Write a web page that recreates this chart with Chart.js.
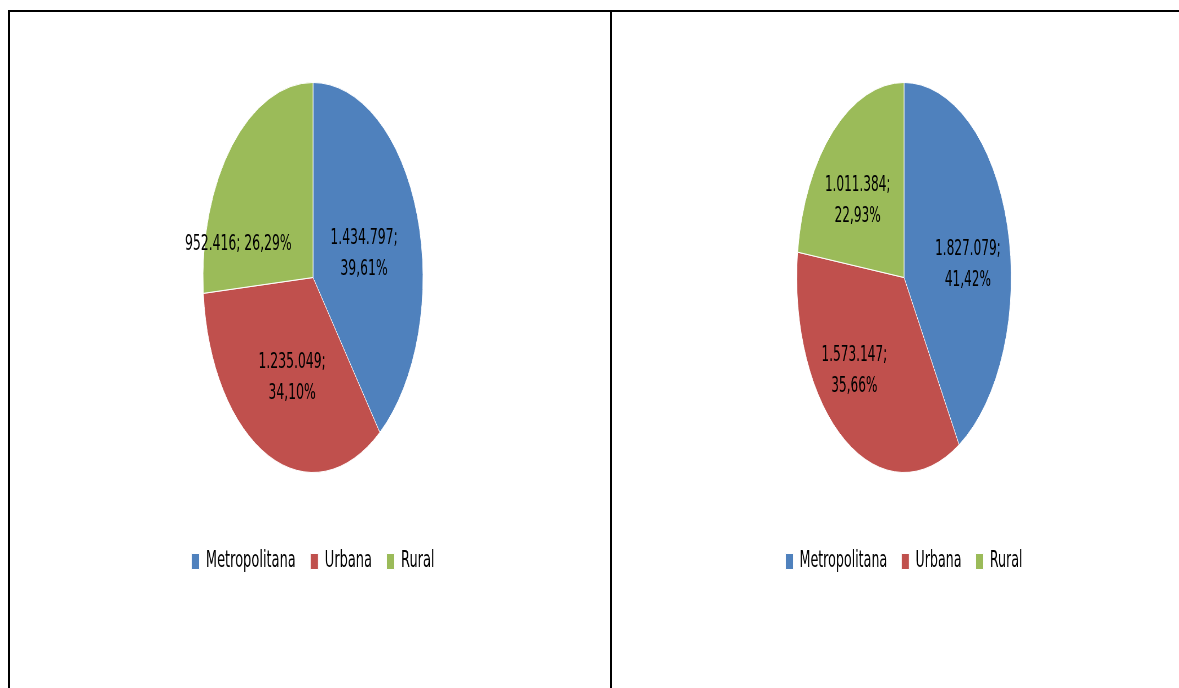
<!DOCTYPE html>
<html lang="es">
<head>
<meta charset="utf-8">
<title>Población por zona</title>
<script src="https://cdn.jsdelivr.net/npm/chart.js@4.4.1/dist/chart.umd.min.js"></script>
<style>
  html, body { margin: 0; padding: 0; background: #fff; overflow: hidden; }
  #tabla { position: absolute; left: 8px; top: 10px; width: 1200px; height: 700px;
           border-top: 2px solid #000; border-left: 2px solid #000; }
  #divisor { position: absolute; left: 610px; top: 10px; width: 2px; height: 700px; background: #000; }
  /* el grafico original esta estirado en vertical: se dibuja en circulo y se comprime en x */
  canvas { position: absolute; top: 0; transform-origin: 0 0; }
  #grafica1 { left: 31px; transform: scaleX(0.564); }
  #grafica2 { left: 629px; transform: scaleX(0.550); }
</style>
</head>
<body>
<div id="tabla"></div>
<div id="divisor"></div>
<canvas id="grafica1" width="1000" height="583"></canvas>
<canvas id="grafica2" width="1000" height="583"></canvas>

<script>
// Datos
const zonas = ['Metropolitana', 'Urbana', 'Rural'];
const valores1 = [1434797, 1235049, 952416];
const valores2 = [1827079, 1573147, 1011384];
const colores = ['#4F81BD', '#C0504D', '#9BBB59'];

// Formato 1.234.567 y 39,61%
function miles(n) {
  return String(n).replace(/\B(?=(\d{3})+(?!\d))/g, '.');
}
function porcentaje(v, datos) {
  const total = datos.reduce((a, b) => a + b, 0);
  return (v / total * 100).toFixed(2).replace('.', ',') + '%';
}

// Etiquetas de datos dibujadas sobre cada sector
const etiquetas = {
  id: 'etiquetas',
  afterDatasetsDraw(chart, args, opts) {
    const ctx = chart.ctx;
    const datos = chart.data.datasets[0].data;
    const meta = chart.getDatasetMeta(0);
    ctx.save();
    ctx.font = '22px "DejaVu Sans"';
    ctx.fillStyle = '#000';
    ctx.textAlign = 'center';
    ctx.textBaseline = 'middle';
    meta.data.forEach((arco, i) => {
      const p = arco.getProps(['x', 'y', 'startAngle', 'endAngle', 'outerRadius'], true);
      const ajuste = opts.ajustes[i];
      const ang = (p.startAngle + p.endAngle) / 2 + ajuste[1] * Math.PI / 180;
      const r = p.outerRadius * ajuste[0];
      const x = p.x + Math.cos(ang) * r;
      const y = p.y + Math.sin(ang) * r;
      const v = datos[i];
      if (opts.unaLinea[i]) {
        ctx.fillText(miles(v) + '; ' + porcentaje(v, datos), x, y);
      } else {
        ctx.fillText(miles(v) + ';', x, y - 15.5);
        ctx.fillText(porcentaje(v, datos), x, y + 15.5);
      }
    });
    ctx.restore();
  }
};

function crear_grafica(id, valores, ajustes, unaLinea) {
  new Chart(document.getElementById(id), {
    type: 'pie',
    data: {
      labels: zonas,
      datasets: [{
        data: valores,
        backgroundColor: colores,
        borderColor: '#fff',
        borderWidth: 1
      }]
    },
    options: {
      responsive: false,
      animation: false,
      devicePixelRatio: 1,
      radius: 195,
      layout: { padding: { top: 31 } },
      plugins: {
        tooltip: { enabled: false },
        legend: {
          position: 'bottom',
          labels: {
            boxWidth: 14,
            boxHeight: 16,
            padding: 26,
            color: '#000',
            font: { family: 'DejaVu Sans', size: 23 }
          }
        },
        etiquetas: { ajustes: ajustes, unaLinea: unaLinea }
      }
    },
    plugins: [etiquetas]
  });
}

crear_grafica('grafica1', valores1, [[0.48, 3.8], [0.547, -3.6], [0.70, -28.7]], [false, false, true]);
crear_grafica('grafica2', valores2, [[0.60, 9.2], [0.665, 10.9], [0.584, -6.4]], [false, false, false]);
</script>
</body>
</html>
